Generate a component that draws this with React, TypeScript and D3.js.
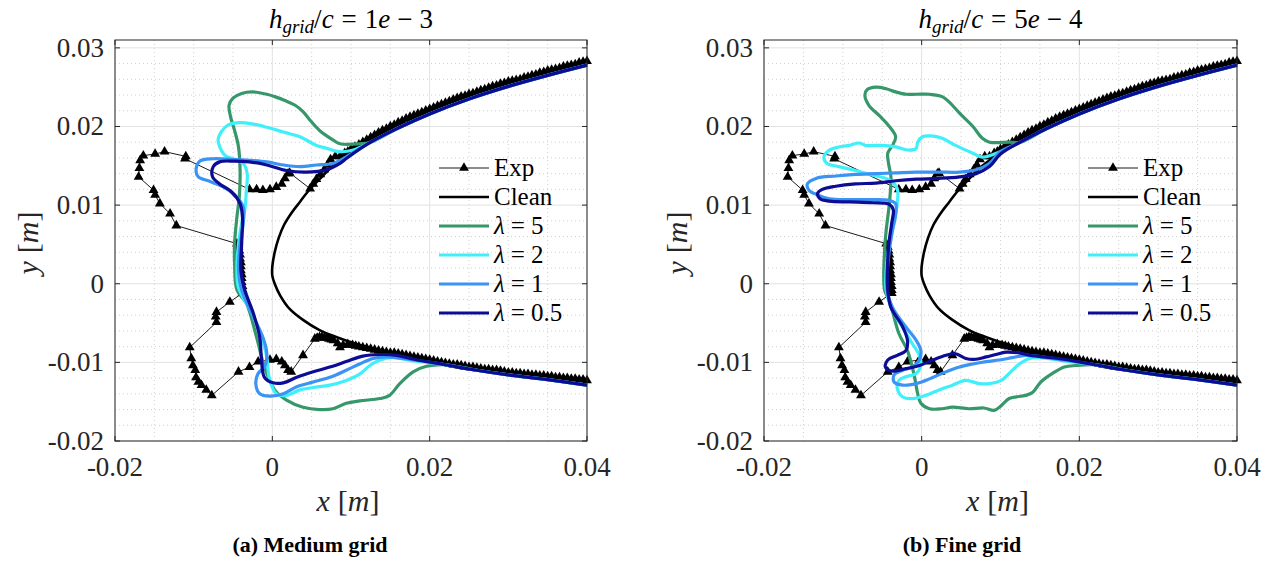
import React from 'react';
import * as d3 from 'd3';

type P = [number, number];

// ---------- axes / ticks ----------
const xTicks = [-0.02, 0, 0.02, 0.04];
const xTickLabels = ['-0.02', '0', '0.02', '0.04'];
const yTicks = [-0.02, -0.01, 0, 0.01, 0.02, 0.03];
const yTickLabels = ['-0.02', '-0.01', '0', '0.01', '0.02', '0.03'];
const xMinorTicks = [-0.015, -0.01, -0.005, 0.005, 0.01, 0.015, 0.025, 0.03, 0.035];
const yMinorTicks = [-0.018, -0.016, -0.014, -0.012, -0.008, -0.006, -0.004, -0.002, 0.002, 0.004, 0.006, 0.008,
  0.012, 0.014, 0.016, 0.018, 0.022, 0.024, 0.026, 0.028];
const xDomain: [number, number] = [-0.02, 0.04];
const yDomain: [number, number] = [-0.02, 0.031];

// ---------- data ----------
const cleanProfile: P[] = [
  [0.04, 0.028], [0.035, 0.0267], [0.03, 0.0253], [0.025, 0.0237], [0.02, 0.0218], [0.016, 0.02],
  [0.013, 0.0185], [0.011, 0.0173], [0.009, 0.016], [0.0077, 0.015], [0.006, 0.0133], [0.0045, 0.0117],
  [0.0035, 0.0104], [0.0025, 0.0091], [0.0015, 0.0075], [0.0008, 0.0058], [0.0003, 0.004], [0.0, 0.0022],
  [0.0, 0.001], [0.0003, 0.0], [0.001, -0.0015], [0.0022, -0.0032], [0.0039, -0.0046], [0.006, -0.0059],
  [0.0082, -0.0068], [0.0111, -0.0078], [0.0145, -0.0087], [0.0179, -0.0093], [0.0238, -0.0107],
  [0.03, -0.0114], [0.035, -0.0119], [0.04, -0.0125],
];

const expUpperSurface: P[] = [
  [0.04, 0.0283], [0.0395, 0.0282], [0.039, 0.0281], [0.0385, 0.0279], [0.038, 0.0278], [0.0375, 0.0277],
  [0.037, 0.0276], [0.0365, 0.0274], [0.036, 0.0273], [0.0355, 0.0272], [0.035, 0.0271], [0.0345, 0.0269],
  [0.034, 0.0268], [0.0335, 0.0266], [0.033, 0.0265], [0.0325, 0.0263], [0.032, 0.0262], [0.0315, 0.026],
  [0.031, 0.0259], [0.0305, 0.0258], [0.03, 0.0257], [0.0295, 0.0255], [0.029, 0.0254], [0.0285, 0.0252],
  [0.028, 0.0251], [0.0275, 0.0249], [0.027, 0.0247], [0.0265, 0.0246], [0.026, 0.0244], [0.0255, 0.0242],
  [0.025, 0.0241], [0.0245, 0.0239], [0.024, 0.0238], [0.0235, 0.0236], [0.023, 0.0234], [0.0225, 0.0232],
  [0.022, 0.023], [0.0215, 0.0228], [0.021, 0.0226], [0.0205, 0.0224], [0.02, 0.0222], [0.0195, 0.022],
  [0.019, 0.0218], [0.0185, 0.0216], [0.018, 0.0214], [0.0175, 0.0212], [0.017, 0.021], [0.0165, 0.0207],
  [0.016, 0.0205], [0.0155, 0.0202], [0.015, 0.02], [0.0145, 0.0197], [0.014, 0.0195], [0.0135, 0.0192],
  [0.013, 0.0189], [0.0125, 0.0186], [0.012, 0.0183], [0.0115, 0.018], [0.011, 0.0177], [0.0105, 0.0174],
  [0.01, 0.0171], [0.0096, 0.0168], [0.0092, 0.0166], [0.0086, 0.0162], [0.008, 0.0162], [0.0074, 0.0158],
  [0.007, 0.0151], [0.0066, 0.0145], [0.0061, 0.0139], [0.0056, 0.0133], [0.0052, 0.0127], [0.0048, 0.0121],
];
const expIce: P[] = [
  [0.0022, 0.0141], [0.002, 0.014], [0.0016, 0.0134], [0.0012, 0.0127], [0.0005, 0.0123], [-0.0003, 0.012],
  [-0.0012, 0.0119], [-0.002, 0.012], [-0.0029, 0.012],
  [-0.0111, 0.0159], [-0.011, 0.0162], [-0.0137, 0.0168], [-0.0149, 0.0165], [-0.0164, 0.0163],
  [-0.0168, 0.0157], [-0.0169, 0.0147], [-0.017, 0.0136], [-0.0151, 0.0119], [-0.0149, 0.0113],
  [-0.0143, 0.0102], [-0.013, 0.0089], [-0.0122, 0.0074],
  [-0.0045, 0.0051], [-0.0043, 0.0047], [-0.0042, 0.0042], [-0.0041, 0.0037], [-0.0041, 0.0032],
  [-0.004, 0.0027], [-0.004, 0.0022], [-0.004, 0.0017], [-0.0039, 0.0012], [-0.0039, 0.0007],
  [-0.0039, 0.0002], [-0.0038, -0.0003], [-0.0038, -0.0008], [-0.0038, -0.0012],
  [-0.0054, -0.0023], [-0.0071, -0.0036], [-0.0072, -0.0042], [-0.0071, -0.0049],
  [-0.0105, -0.0081], [-0.0103, -0.0095], [-0.0101, -0.0104], [-0.0098, -0.011], [-0.0097, -0.0119],
  [-0.0094, -0.0125], [-0.009, -0.0129], [-0.0084, -0.0135], [-0.0077, -0.0142],
  [-0.0043, -0.0112], [-0.0029, -0.0106], [-0.0018, -0.0099], [-0.0003, -0.0097], [0.0005, -0.0096],
  [0.0012, -0.0099], [0.0016, -0.0104], [0.002, -0.011], [0.0024, -0.0112], [0.0039, -0.0091],
];
const expLowerSurface: P[] = [
  [0.0054, -0.007], [0.0057, -0.0069], [0.006, -0.0068], [0.0063, -0.0068], [0.0066, -0.0069], [0.0069, -0.0069],
  [0.0072, -0.007], [0.0075, -0.0071], [0.0078, -0.0072], [0.0083, -0.0076], [0.0086, -0.0081], [0.009, -0.0078],
  [0.0096, -0.0077], [0.0102, -0.0078], [0.0106, -0.0079], [0.011, -0.008], [0.0115, -0.0081], [0.012, -0.0082],
  [0.0125, -0.0083], [0.013, -0.0084], [0.0135, -0.0085], [0.014, -0.0086], [0.0145, -0.0087], [0.015, -0.0088],
  [0.0155, -0.0088], [0.016, -0.0089], [0.0165, -0.009], [0.017, -0.0091], [0.0175, -0.0092], [0.018, -0.0093],
  [0.0185, -0.0094], [0.019, -0.0095], [0.0195, -0.0096], [0.02, -0.0097], [0.0205, -0.0098], [0.021, -0.0099],
  [0.0215, -0.01], [0.022, -0.0101], [0.0225, -0.0102], [0.023, -0.0103], [0.0235, -0.0103], [0.024, -0.0104],
  [0.0245, -0.0105], [0.025, -0.0106], [0.0255, -0.0106], [0.026, -0.0107], [0.0265, -0.0108], [0.027, -0.0109],
  [0.0275, -0.0109], [0.028, -0.011], [0.0285, -0.011], [0.029, -0.0111], [0.0295, -0.0112], [0.03, -0.0113],
  [0.0305, -0.0113], [0.031, -0.0114], [0.0315, -0.0114], [0.032, -0.0115], [0.0325, -0.0115], [0.033, -0.0116],
  [0.0335, -0.0116], [0.034, -0.0117], [0.0345, -0.0117], [0.035, -0.0118], [0.0355, -0.0118], [0.036, -0.0119],
  [0.0365, -0.0119], [0.037, -0.012], [0.0375, -0.012], [0.038, -0.0121], [0.0385, -0.0121], [0.039, -0.0122],
  [0.0395, -0.0122], [0.04, -0.0123],
];

const lambdaUpperSurface: P[] = [
  [0.04, 0.0278], [0.035, 0.0265], [0.03, 0.0251], [0.025, 0.0235], [0.02, 0.0216], [0.016, 0.0198], [0.0125, 0.018],
];
const lambdaLowerSurface: P[] = [
  [0.022, -0.0103], [0.026, -0.011], [0.03, -0.0116], [0.035, -0.0122], [0.04, -0.0129],
];

// Medium grid (h/c = 1e-3)
const medium5: P[] = [
  [0.0111, 0.0178], [0.0086, 0.0178], [0.0077, 0.0183], [0.006, 0.0195], [0.0048, 0.0208], [0.0039, 0.0219],
  [0.0029, 0.0227], [0.0016, 0.0233], [0.0003, 0.0238], [-0.0007, 0.0241], [-0.0026, 0.0244], [-0.0039, 0.0242],
  [-0.005, 0.0236], [-0.0055, 0.0227], [-0.0053, 0.0212], [-0.0048, 0.0195], [-0.0043, 0.0174], [-0.0041, 0.0144],
  [-0.0042, 0.011], [-0.0045, 0.0085], [-0.0048, 0.0051], [-0.0048, 0.0026], [-0.0045, -0.0008], [-0.0033, -0.0025],
  [-0.002, -0.0068], [-0.001, -0.0106], [0.0003, -0.0135], [0.0018, -0.0148], [0.0039, -0.0157], [0.006, -0.016],
  [0.0077, -0.0159], [0.0094, -0.0152], [0.0111, -0.0149], [0.0137, -0.0146], [0.0149, -0.0142], [0.0162, -0.0127],
  [0.0179, -0.0112], [0.0196, -0.0105],
];
const medium2: P[] = [
  [0.0103, 0.017], [0.0085, 0.0168], [0.007, 0.0172], [0.0056, 0.0176], [0.0035, 0.0187], [0.0014, 0.0193],
  [-0.0007, 0.0199], [-0.0024, 0.0203], [-0.0041, 0.0205], [-0.0056, 0.0202], [-0.0065, 0.0193], [-0.0069, 0.0183],
  [-0.0066, 0.0172], [-0.006, 0.0163], [-0.005, 0.0159], [-0.0037, 0.0153], [-0.0032, 0.014], [-0.0033, 0.0119],
  [-0.0035, 0.0094], [-0.0039, 0.0077], [-0.0043, 0.0051], [-0.0045, 0.0017], [-0.0043, -0.0005], [-0.0026, -0.0038],
  [-0.0014, -0.0068], [-0.0007, -0.0093], [-0.0004, -0.0119], [0.0005, -0.014], [0.0018, -0.0142], [0.0035, -0.0135],
  [0.0052, -0.0132], [0.0073, -0.0129], [0.0094, -0.0123], [0.0111, -0.0115], [0.0124, -0.0104], [0.0137, -0.0097],
  [0.0153, -0.0094], [0.018, -0.0098],
];
const medium1: P[] = [
  [0.0095, 0.0162], [0.0077, 0.0153], [0.0056, 0.0151], [0.0035, 0.0149], [0.0014, 0.0151], [-0.0007, 0.0155],
  [-0.0029, 0.0157], [-0.005, 0.0158], [-0.0075, 0.0159], [-0.0092, 0.0156], [-0.0097, 0.0144], [-0.0094, 0.0136],
  [-0.0079, 0.013], [-0.0062, 0.0123], [-0.0048, 0.0113], [-0.0037, 0.0098], [-0.0037, 0.0077], [-0.0041, 0.0051],
  [-0.0043, 0.0017], [-0.0039, -0.0008], [-0.0024, -0.0042], [-0.0012, -0.0068], [-0.0007, -0.0089], [-0.001, -0.0106],
  [-0.0018, -0.0114], [-0.0021, -0.0127], [-0.0016, -0.014], [-0.0003, -0.0143], [0.0014, -0.014], [0.0031, -0.0131],
  [0.0052, -0.0125], [0.0073, -0.0119], [0.0094, -0.011], [0.0111, -0.0102], [0.0128, -0.0095], [0.0145, -0.0093],
  [0.018, -0.0097],
];
const medium05: P[] = [
  [0.0095, 0.016], [0.0086, 0.0153], [0.0069, 0.0145], [0.0043, 0.0142], [0.0018, 0.0144], [-0.0007, 0.0151],
  [-0.0029, 0.0155], [-0.005, 0.0156], [-0.0067, 0.0155], [-0.0075, 0.0149], [-0.0076, 0.0136], [-0.0067, 0.0127],
  [-0.0052, 0.0117], [-0.0041, 0.0102], [-0.0038, 0.0085], [-0.0039, 0.0051], [-0.004, 0.0017], [-0.0035, -0.0008],
  [-0.0024, -0.0038], [-0.0016, -0.0068], [-0.0014, -0.0093], [-0.001, -0.0119], [0.0001, -0.0126], [0.0014, -0.0126],
  [0.0031, -0.0119], [0.0052, -0.0112], [0.0073, -0.0106], [0.0094, -0.0099], [0.0115, -0.0092], [0.0137, -0.009],
  [0.0158, -0.0091], [0.018, -0.0096],
];

// Fine grid (h/c = 5e-4)
const fine5: P[] = [
  [0.0111, 0.018], [0.0086, 0.018], [0.0077, 0.0185], [0.0065, 0.02], [0.0048, 0.0217], [0.0035, 0.0231],
  [0.0026, 0.0238], [0.001, 0.0241], [-0.0007, 0.0241], [-0.002, 0.0241], [-0.0033, 0.0244], [-0.0045, 0.0248],
  [-0.0058, 0.025], [-0.0069, 0.0247], [-0.0072, 0.024], [-0.0067, 0.0227], [-0.0054, 0.0214], [-0.0041, 0.02],
  [-0.0033, 0.0187], [-0.0037, 0.0176], [-0.0043, 0.0166], [-0.0042, 0.0153], [-0.0039, 0.0136], [-0.0041, 0.0102],
  [-0.0045, 0.0068], [-0.0047, 0.0043], [-0.0047, -0.0008], [-0.0041, -0.0021], [-0.0029, -0.0063], [-0.0018, -0.0085],
  [-0.001, -0.0114], [-0.0005, -0.014], [-0.0001, -0.0152], [0.001, -0.0159], [0.0026, -0.0159], [0.0039, -0.0157],
  [0.006, -0.0159], [0.0079, -0.0158], [0.0092, -0.0161], [0.0101, -0.0155], [0.0111, -0.0146], [0.0132, -0.0142],
  [0.0141, -0.0138], [0.0151, -0.0125], [0.0166, -0.0114], [0.0181, -0.0106], [0.0195, -0.0104],
];
const fine2: P[] = [
  [0.01, 0.0168], [0.0077, 0.0161], [0.0065, 0.0166], [0.0043, 0.0176], [0.0026, 0.0185], [0.0012, 0.0188],
  [0.0001, 0.0187], [-0.0005, 0.018], [-0.0007, 0.0172], [-0.0016, 0.017], [-0.0033, 0.0174], [-0.005, 0.0176],
  [-0.0071, 0.0176], [-0.0079, 0.0179], [-0.0092, 0.0176], [-0.0105, 0.0174], [-0.0117, 0.017], [-0.0124, 0.0161],
  [-0.012, 0.0153], [-0.0105, 0.0149], [-0.0084, 0.0144], [-0.0062, 0.0138], [-0.0041, 0.0132], [-0.0031, 0.0121],
  [-0.0031, 0.0102], [-0.0035, 0.0077], [-0.0041, 0.0051], [-0.0045, 0.0017], [-0.0045, -0.0008], [-0.0039, -0.003],
  [-0.0022, -0.0059], [-0.0012, -0.0076], [-0.0003, -0.0091], [-0.0001, -0.0104], [-0.0007, -0.0114], [-0.0019, -0.0118],
  [-0.0029, -0.0123], [-0.0031, -0.0133], [-0.0024, -0.0144], [-0.0012, -0.0146], [0.0005, -0.0142], [0.0022, -0.0135],
  [0.0039, -0.0129], [0.0056, -0.0123], [0.0073, -0.0127], [0.0086, -0.0127], [0.0101, -0.0123], [0.0113, -0.0112],
  [0.0124, -0.0102], [0.0137, -0.0095], [0.0149, -0.0094], [0.018, -0.0098],
];
const fine1: P[] = [
  [0.01, 0.0168], [0.0086, 0.0153], [0.0069, 0.0145], [0.0048, 0.0142], [0.0022, 0.0142], [-0.0007, 0.0142],
  [-0.0033, 0.0141], [-0.0058, 0.014], [-0.0084, 0.0139], [-0.0109, 0.0137], [-0.0134, 0.0134], [-0.0145, 0.0127],
  [-0.0143, 0.0119], [-0.0132, 0.0113], [-0.0117, 0.0108], [-0.0092, 0.0107], [-0.0062, 0.0107], [-0.0041, 0.0106],
  [-0.0033, 0.0102], [-0.0033, 0.0089], [-0.0037, 0.0068], [-0.0042, 0.0034], [-0.0044, -0.0008], [-0.0037, -0.003],
  [-0.002, -0.0055], [-0.0007, -0.0072], [-0.0001, -0.0085], [-0.0003, -0.0097], [-0.0012, -0.0106], [-0.0024, -0.011],
  [-0.0035, -0.0116], [-0.0035, -0.0125], [-0.0024, -0.0129], [-0.0007, -0.0127], [0.001, -0.0121], [0.0026, -0.0114],
  [0.0048, -0.0106], [0.0065, -0.0102], [0.0082, -0.0099], [0.0098, -0.0097], [0.0115, -0.0094], [0.0132, -0.0091],
  [0.018, -0.0097],
];
const fine05: P[] = [
  [0.01, 0.0165], [0.0086, 0.0149], [0.0069, 0.014], [0.0048, 0.0136], [0.0022, 0.0134], [-0.0007, 0.0133],
  [-0.0033, 0.0131], [-0.0058, 0.0128], [-0.0084, 0.0127], [-0.0109, 0.0124], [-0.0126, 0.012], [-0.0132, 0.0115],
  [-0.0129, 0.0108], [-0.0117, 0.0105], [-0.0092, 0.0104], [-0.0062, 0.0103], [-0.0041, 0.0101], [-0.0036, 0.0094],
  [-0.0038, 0.0077], [-0.0042, 0.0047], [-0.0043, -0.0008], [-0.0039, -0.003], [-0.0024, -0.0055], [-0.0018, -0.0072],
  [-0.002, -0.0085], [-0.0031, -0.0091], [-0.0043, -0.0097], [-0.0046, -0.0106], [-0.0039, -0.0111], [-0.002, -0.0108],
  [-0.0003, -0.0104], [0.0014, -0.0097], [0.0031, -0.0091], [0.0043, -0.0089], [0.0056, -0.0095], [0.0069, -0.0096],
  [0.0082, -0.0093], [0.0094, -0.009], [0.0107, -0.0087], [0.0124, -0.0088], [0.0137, -0.0091], [0.018, -0.0096],
];

const lambdaLabels = ['5', '2', '1', '0.5'];
const lambdaColors = ['#36986a', '#3ff0fb', '#3b93f4', '#0c0c94'];

const FONT = 'Liberation Serif, DejaVu Serif, Times New Roman, serif';

type PanelProps = {
  left: number;
  right: number;
  titleSuffix: string;
  caption: string;
  captionX: number;
  curves: P[][];
};

const full = (own: P[]): P[] => [...lambdaUpperSurface, ...own, ...lambdaLowerSurface];
const expFull: P[] = [...expUpperSurface, ...expIce, ...expLowerSurface];

function Panel({ left, right, titleSuffix, caption, captionX, curves }: PanelProps) {
  const top = 40;
  const bottom = 441;
  const x = d3.scaleLinear().domain(xDomain).range([left, right]);
  const y = d3.scaleLinear().domain(yDomain).range([bottom, top]);
  const smooth = d3.line<P>().x((d) => x(d[0])).y((d) => y(d[1])).curve(d3.curveCatmullRom.alpha(0.5));
  const straight = d3.line<P>().x((d) => x(d[0])).y((d) => y(d[1]));
  const tri = d3.symbol(d3.symbolTriangle, 42)() as string;
  const cx = (left + right) / 2;
  const tick = 5;
  const axisColor = '#262626';
  const legX = left + 324;
  const legY = [168, 197, 226, 255, 284, 313];

  return (
    <g>
      {/* minor grid */}
      {xMinorTicks.map((t) => (
        <line key={'xm' + t} x1={x(t)} x2={x(t)} y1={top} y2={bottom} stroke="#c4c4c4" strokeWidth={0.8} strokeDasharray="1,3" />
      ))}
      {yMinorTicks.map((t) => (
        <line key={'ym' + t} x1={left} x2={right} y1={y(t)} y2={y(t)} stroke="#c4c4c4" strokeWidth={0.8} strokeDasharray="1,3" />
      ))}
      {/* major grid */}
      {xTicks.map((t) => (
        <line key={'xg' + t} x1={x(t)} x2={x(t)} y1={top} y2={bottom} stroke="#e2e2e2" strokeWidth={1} />
      ))}
      {yTicks.map((t) => (
        <line key={'yg' + t} x1={left} x2={right} y1={y(t)} y2={y(t)} stroke="#e2e2e2" strokeWidth={1} />
      ))}

      {/* Exp */}
      <path d={straight(expFull) as string} fill="none" stroke="#000" strokeWidth={0.9} />
      {expFull.map((p, i) => (
        <path key={'e' + i} d={tri} transform={`translate(${x(p[0])},${y(p[1])})`} fill="#000" />
      ))}
      {/* Clean */}
      <path d={smooth(cleanProfile) as string} fill="none" stroke="#000" strokeWidth={2.6} />
      {/* lambda curves */}
      {curves.map((c, i) => (
        <path key={'c' + i} d={smooth(full(c)) as string} fill="none" stroke={lambdaColors[i]} strokeWidth={3.2} strokeLinejoin="round" />
      ))}

      {/* box and ticks */}
      <rect x={left} y={top} width={right - left} height={bottom - top} fill="none" stroke={axisColor} strokeWidth={1} />
      {xTicks.map((t) => (
        <g key={'xt' + t}>
          <line x1={x(t)} x2={x(t)} y1={bottom} y2={bottom - tick} stroke={axisColor} />
          <line x1={x(t)} x2={x(t)} y1={top} y2={top + tick} stroke={axisColor} />
        </g>
      ))}
      {yTicks.map((t) => (
        <g key={'yt' + t}>
          <line x1={left} x2={left + tick} y1={y(t)} y2={y(t)} stroke={axisColor} />
          <line x1={right} x2={right - tick} y1={y(t)} y2={y(t)} stroke={axisColor} />
        </g>
      ))}
      {xTicks.map((t, i) => (
        <text key={'xl' + t} x={x(t)} y={476} textAnchor="middle" fontSize={27} fontFamily={FONT} fill="#262626">
          {xTickLabels[i]}
        </text>
      ))}
      {yTicks.map((t, i) => (
        <text key={'yl' + t} x={left - 11} y={y(t) + 9} textAnchor="end" fontSize={27} fontFamily={FONT} fill="#262626">
          {yTickLabels[i]}
        </text>
      ))}

      {/* axis labels */}
      <text x={cx - 3} y={511} textAnchor="middle" fontSize={30} fontFamily={FONT} fill="#262626">
        <tspan fontStyle="italic">x</tspan>
        <tspan dx={8}>[</tspan>
        <tspan fontStyle="italic">m</tspan>
        <tspan>]</tspan>
      </text>
      <text transform={`translate(${left - 77},243) rotate(-90)`} textAnchor="middle" fontSize={30} fontFamily={FONT} fill="#262626">
        <tspan fontStyle="italic">y</tspan>
        <tspan dx={8}>[</tspan>
        <tspan fontStyle="italic">m</tspan>
        <tspan>]</tspan>
      </text>

      {/* title */}
      <text x={cx} y={28} textAnchor="middle" fontSize={27} fontFamily={FONT} fill="#000">
        <tspan fontStyle="italic">h</tspan>
        <tspan fontStyle="italic" fontSize={19} dy={5}>grid</tspan>
        <tspan dy={-5}>/</tspan>
        <tspan fontStyle="italic">c</tspan>
        <tspan dx={8}>=</tspan>
        <tspan dx={8}>{titleSuffix[0]}</tspan>
        <tspan fontStyle="italic">e</tspan>
        <tspan dx={7}>−</tspan>
        <tspan dx={7}>{titleSuffix.slice(1)}</tspan>
      </text>

      {/* legend */}
      <line x1={legX} x2={legX + 50} y1={legY[0]} y2={legY[0]} stroke="#000" strokeWidth={0.9} />
      <path d={tri} transform={`translate(${legX + 25},${legY[0]})`} fill="#000" />
      <text x={legX + 55} y={legY[0] + 8} fontSize={25} fontFamily={FONT}>Exp</text>
      <line x1={legX} x2={legX + 50} y1={legY[1]} y2={legY[1]} stroke="#000" strokeWidth={2.6} />
      <text x={legX + 55} y={legY[1] + 8} fontSize={25} fontFamily={FONT}>Clean</text>
      {lambdaLabels.map((l, i) => (
        <g key={'lg' + l}>
          <line x1={legX} x2={legX + 50} y1={legY[i + 2]} y2={legY[i + 2]} stroke={lambdaColors[i]} strokeWidth={3.2} />
          <text x={legX + 55} y={legY[i + 2] + 8} fontSize={25} fontFamily={FONT}>
            <tspan fontStyle="italic">λ</tspan>
            <tspan dx={6}>=</tspan>
            <tspan dx={6}>{l}</tspan>
          </text>
        </g>
      ))}

      {/* caption */}
      <text x={captionX} y={552} textAnchor="middle" fontSize={22} fontWeight="bold" fontFamily={FONT}>
        {caption}
      </text>
    </g>
  );
}

export default function App() {
  return (
    <svg width={1275} height={564} style={{ position: 'absolute', left: 0, top: 0, background: '#fff' }}>
      <rect x={0} y={0} width={1275} height={564} fill="#fff" />
      <Panel left={115} right={587} titleSuffix="13" caption="(a) Medium grid" captionX={310}
        curves={[medium5, medium2, medium1, medium05]} />
      <Panel left={764} right={1237} titleSuffix="54" caption="(b) Fine grid" captionX={962}
        curves={[fine5, fine2, fine1, fine05]} />
    </svg>
  );
}
